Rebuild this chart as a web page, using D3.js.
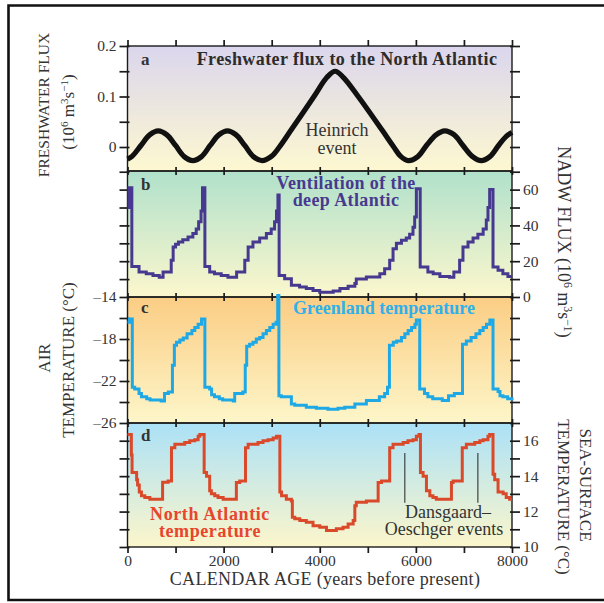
<!DOCTYPE html>
<html>
<head>
<meta charset="utf-8">
<script src="https://cdn.jsdelivr.net/npm/d3@7"></script>
<style>
  html, body { margin: 0; padding: 0; background: #fff; }
  svg { display: block; font-family: "Liberation Serif", "DejaVu Serif", serif; }
</style>
</head>
<body>
<svg id="chart" width="604" height="603"></svg>
<script>
// ---- Data -------------------------------------------------------------
const ageTicks = [0, 1000, 2000, 3000, 4000, 5000, 6000, 7000, 8000];
const ageLabels = [0, 2000, 4000, 6000, 8000];

// a: freshwater flux to the North Atlantic (10^6 m^3 s^-1)
const fluxYears  = [0, 100, 280, 460, 640, 820, 1000, 1180, 1360, 1540, 1720, 1900, 2080, 2260, 2440, 2620, 2800, 3000, 3160, 3400, 3880, 4150, 4320, 4490, 4800, 5300, 5540, 5680, 5840, 6040, 6220, 6420, 6600, 6800, 6980, 7180, 7360, 7540, 7720, 7880, 8000];
const fluxValues = [-0.024, -0.018, 0.003, 0.024, 0.032, 0.024, 0.003, -0.019, -0.027, -0.019, 0.003, 0.024, 0.032, 0.024, 0.003, -0.019, -0.027, -0.018, 0.0, 0.033, 0.1, 0.138, 0.15, 0.138, 0.1, 0.033, 0.0, -0.018, -0.027, -0.019, 0.003, 0.024, 0.032, 0.024, 0.003, -0.019, -0.027, -0.019, 0.003, 0.021, 0.029];

// b: NADW flux (10^6 m^3 s^-1)
const nadwYears  = [0, 30, 90, 240, 390, 530, 660, 740, 910, 950, 1000, 1060, 1150, 1260, 1360, 1430, 1480, 1530, 1560, 1610,
                    1710, 1810, 1950, 2090, 2270, 2440, 2510, 2610, 2750, 2890, 2990, 3060, 3100, 3130, 3155,
                    3270, 3410, 3580, 3720, 3860, 4000, 4280, 4420, 4590, 4730, 4760, 4970, 5250, 5350, 5455, 5525, 5595, 5700, 5800, 5870, 5940, 5975, 6010, 6090,
                    6250, 6360, 6500, 6700, 6790, 6910, 6980, 7085, 7190, 7290, 7400, 7465, 7500, 7535, 7605, 7710, 7810, 7915, 8000];
const nadwValues = [50, 61, 17, 14, 13, 12, 11, 14, 20.5, 28, 29.5, 30.7, 32, 33.5, 35.5, 38, 42, 48, 61, 17,
                    14, 13, 12, 11, 14, 20.5, 28, 30.7, 33, 35.5, 38, 42, 48, 57, 12,
                    10.2, 6.5, 5.6, 4.7, 3.7, 2.6, 3.3, 4.7, 6, 7.5, 10, 11.2, 13, 15.8, 20.5, 27, 30, 31.7, 33, 35, 39, 44.7, 60.5, 16.8,
                    14, 13, 11.5, 11, 14, 20.5, 28, 30.7, 33, 35, 38, 43, 50, 60, 16.8, 15, 13, 11.5, 11.5];

// c: Greenland air temperature (°C)
const greenYears  = [0, 40, 100, 150, 240, 290, 400, 470, 700, 770, 850, 935, 975, 1020, 1090, 1160, 1240, 1340, 1400, 1470, 1540, 1610,
                     1710, 1750, 1810, 1910, 1980, 2200, 2230, 2400, 2450, 2480, 2540, 2610, 2680, 2750, 2820, 2890, 2960, 3030, 3090, 3125, 3150,
                     3200, 3410, 3480, 3720, 3930, 4170, 4380, 4520, 4730, 4970, 5240, 5350, 5410, 5450, 5530, 5600, 5700, 5770, 5840, 5910, 5980, 6010, 6080,
                     6180, 6250, 6350, 6550, 6680, 6800, 6970, 7050, 7150, 7250, 7330, 7400, 7470, 7540, 7605, 7710, 7750, 7810, 7910, 8000];
const greenValues = [-16.4, -16.1, -22.6, -22.75, -23.2, -23.5, -23.7, -23.8, -23.9, -23.2, -23.05, -20.5, -18.6, -18.3, -18.1, -17.9, -17.5, -17.2, -16.9, -16.6, -16.1, -22.6,
                     -22.75, -23.3, -23.5, -23.7, -23.8, -23.9, -23.2, -23.05, -20.5, -18.7, -18.5, -18.3, -18.0, -17.85, -17.5, -17.2, -16.9, -16.6, -16.4, -13.85, -23.4,
                     -23.5, -24.2, -24.3, -24.5, -24.6, -24.7, -24.6, -24.5, -24.2, -23.85, -23.5, -23.2, -22.6, -18.6, -18.3, -18.2, -17.85, -17.5, -17.2, -16.9, -16.6, -16.2, -22.75,
                     -23.2, -23.5, -23.7, -23.85, -23.4, -23.2, -18.5, -18.2, -17.85, -17.5, -17.2, -16.9, -16.6, -16.2, -22.75, -23.0, -23.4, -23.5, -23.7, -23.85];

// d: North Atlantic sea-surface temperature (°C)
const sstYears  = [0, 80, 95, 190, 210, 245, 290, 360, 465, 730, 845, 915, 985, 1190, 1295, 1400, 1470, 1505, 1595,
                   1645, 1710, 1745, 1815, 1885, 1990, 2265, 2335, 2455, 2510, 2715, 2820, 2925, 3030, 3100, 3170,
                   3205, 3305, 3410, 3430, 3480, 3585, 3720, 3860, 4000, 4140, 4345, 4485, 4590, 4695, 4730, 4760, 4970, 5215, 5285, 5455, 5525, 5735, 5835, 5940, 6010, 6065, 6095,
                   6150, 6220, 6290, 6355, 6425, 6740, 6775, 6965, 7050, 7225, 7330, 7400, 7500, 7535, 7605, 7640, 7710, 7815, 7880, 7950, 8000];
const sstValues = [16.35, 15.2, 14.2, 13.8, 13.5, 13.1, 12.9, 12.8, 12.7, 13.65, 13.73, 15.6, 15.8, 15.9, 16.0, 16.06, 16.25, 16.35, 14.2,
                   14.0, 13.17, 13.0, 12.9, 12.8, 12.7, 13.64, 13.73, 15.6, 15.8, 15.9, 16.0, 16.06, 16.16, 16.25, 13.1,
                   12.9, 12.7, 12.6, 11.68, 11.6, 11.5, 11.4, 11.2, 11.12, 10.93, 11.03, 11.12, 11.3, 11.5, 12.33, 12.52, 12.6, 13.64, 13.73, 15.6, 15.8, 15.9, 16.0, 16.06, 16.25, 16.35, 14.2,
                   14.0, 13.17, 12.9, 12.8, 12.7, 13.64, 13.73, 15.6, 15.8, 15.9, 16.0, 16.06, 16.25, 16.35, 14.1, 13.8, 13.1, 13.0, 12.8, 12.7, 12.7];

// Dansgaard–Oeschger event markers
const doYears = [5770, 7290];
const doRange = [12.5, 15.3];

// ---- Layout -----------------------------------------------------------
const svg = d3.select('#chart');
const X0 = 127.5, X1 = 512;
const x = d3.scaleLinear().domain([0, 8000]).range([X0, X1]);

const yA = d3.scaleLinear().domain([-0.0475, 0.2]).range([171, 46]);
const yB = d3.scaleLinear().domain([0, 70.4]).range([297, 171]);
const yC = d3.scaleLinear().domain([-26, -14]).range([423, 297]);
const yD = d3.scaleLinear().domain([10, 17]).range([547, 423]);

const panels = [
  { key: 'a', y: yA, top: '#dbd6ed', bottom: '#fdf8d0' },
  { key: 'b', y: yB, top: '#b0e1cb', bottom: '#fcf7cd' },
  { key: 'c', y: yC, top: '#fbcd84', bottom: '#fdf6c9' },
  { key: 'd', y: yD, top: '#abe1f7', bottom: '#fcf6cb' }
];

// outer frame
svg.append('path')
  .attr('d', 'M 620 5.5 H 8.5 V 600 H 620')
  .attr('fill', 'none').attr('stroke', '#111').attr('stroke-width', 2.6);

const defs = svg.append('defs');
panels.forEach(p => {
  const g = defs.append('linearGradient').attr('id', 'bg-' + p.key)
    .attr('x1', 0).attr('y1', 0).attr('x2', 0).attr('y2', 1);
  g.append('stop').attr('offset', '0%').attr('stop-color', p.top);
  g.append('stop').attr('offset', '100%').attr('stop-color', p.bottom);
  const [y0, y1] = p.y.range();
  svg.append('rect')
    .attr('x', X0).attr('y', y1).attr('width', X1 - X0).attr('height', y0 - y1)
    .attr('fill', 'url(#bg-' + p.key + ')');
});

// ---- Axes -------------------------------------------------------------
function styleAxis(g) {
  g.select('.domain').remove();
  g.attr('font-family', null).attr('font-size', null);
  g.selectAll('line').attr('stroke', '#1a1a1a').attr('stroke-width', 1.7);
  g.selectAll('text').attr('fill', '#333').style('font-size', '15.5px');
  return g;
}
const dash = v => (v < 0 ? '\u2013' + Math.abs(v) : String(v));

// left axes
svg.append('g').attr('transform', `translate(${X0},0)`)
  .call(d3.axisLeft(yA).tickValues([0, 0.05, 0.1, 0.15, 0.2]).tickSize(8).tickPadding(3)
    .tickFormat(v => ([0, 0.1, 0.2].some(t => Math.abs(t - v) < 1e-9) ? (v === 0 ? '0' : v.toFixed(1)) : '')))
  .call(styleAxis).selectAll('line').attr('x1', 2);
svg.append('g').attr('transform', `translate(${X0},0)`)
  .call(d3.axisLeft(yB).tickValues(d3.range(10, 71, 10)).tickSize(8).tickFormat(''))
  .call(styleAxis).selectAll('line').attr('x1', 2);
svg.append('g').attr('transform', `translate(${X0},0)`)
  .call(d3.axisLeft(yC).tickValues(d3.range(-26, -13, 2)).tickSize(8).tickPadding(3)
    .tickFormat(v => ([-14, -18, -22, -26].includes(v) ? dash(v) : '')))
  .call(styleAxis).selectAll('line').attr('x1', 2);
svg.append('g').attr('transform', `translate(${X0},0)`)
  .call(d3.axisLeft(yD).tickValues(d3.range(10, 17, 1)).tickSize(8).tickFormat(''))
  .call(styleAxis).selectAll('line').attr('x1', 2);

// right axes
svg.append('g').attr('transform', `translate(${X1},0)`)
  .call(d3.axisRight(yA).tickValues([0, 0.05, 0.1, 0.15, 0.2]).tickSize(8).tickFormat(''))
  .call(styleAxis).selectAll('line').attr('x1', -2);
svg.append('g').attr('transform', `translate(${X1},0)`)
  .call(d3.axisRight(yB).tickValues(d3.range(10, 71, 10)).tickSize(8).tickPadding(3)
    .tickFormat(v => (v % 20 === 0 ? String(v) : '')))
  .call(styleAxis).selectAll('line').attr('x1', -2);
svg.append('g').attr('transform', `translate(${X1},0)`)
  .call(d3.axisRight(yC).tickValues(d3.range(-26, -13, 2)).tickSize(8).tickPadding(3)
    .tickFormat(v => (v === -14 ? '0' : '')))
  .call(styleAxis).selectAll('line').attr('x1', -2);
svg.append('g').attr('transform', `translate(${X1},0)`)
  .call(d3.axisRight(yD).tickValues(d3.range(10, 17, 1)).tickSize(8).tickPadding(3)
    .tickFormat(v => (v % 2 === 0 ? String(v) : '')))
  .call(styleAxis).selectAll('line').attr('x1', -2);

// horizontal age ticks on every panel boundary
const edges = [46, 171, 297, 423];
edges.forEach((yy, i) => {
  svg.append('g').attr('transform', `translate(0,${yy})`)
    .call(d3.axisTop(x).tickValues(ageTicks).tickSize(i === 0 ? 6 : 4).tickFormat(''))
    .call(styleAxis);
  if (i > 0) {
    svg.append('g').attr('transform', `translate(0,${yy})`)
      .call(d3.axisBottom(x).tickValues(ageTicks).tickSize(4).tickFormat(''))
      .call(styleAxis);
  }
});
svg.append('g').attr('transform', 'translate(0,547)')
  .call(d3.axisBottom(x).tickValues(ageTicks).tickSize(6).tickPadding(2)
    .tickFormat(v => (ageLabels.includes(v) ? String(v) : '')))
  .call(styleAxis);

// panel outlines
panels.forEach(p => {
  const [y0, y1] = p.y.range();
  svg.append('rect')
    .attr('x', X0).attr('y', y1).attr('width', X1 - X0).attr('height', y0 - y1)
    .attr('fill', 'none').attr('stroke', '#1a1a1a').attr('stroke-width', 1.4);
});

// ---- Series -----------------------------------------------------------
const stepLine = y => d3.line().x(d => x(d[0])).y(d => y(d[1])).curve(d3.curveStepAfter);

svg.append('path')
  .datum(d3.zip(fluxYears, fluxValues))
  .attr('d', d3.line().x(d => x(d[0])).y(d => yA(d[1])).curve(d3.curveCatmullRom.alpha(0.5)))
  .attr('fill', 'none').attr('stroke', '#111').attr('stroke-width', 5.2).attr('stroke-linecap', 'butt');

svg.append('path')
  .datum(d3.zip(nadwYears, nadwValues))
  .attr('d', stepLine(yB))
  .attr('fill', 'none').attr('stroke', '#47398f').attr('stroke-width', 3);

svg.append('path')
  .datum(d3.zip(greenYears, greenValues))
  .attr('d', stepLine(yC))
  .attr('fill', 'none').attr('stroke', '#1ea9e6').attr('stroke-width', 3);

svg.append('path')
  .datum(d3.zip(sstYears, sstValues))
  .attr('d', stepLine(yD))
  .attr('fill', 'none').attr('stroke', '#d9492a').attr('stroke-width', 3);

svg.selectAll('line.do')
  .data(doYears).enter().append('line').attr('class', 'do')
  .attr('x1', d => x(d)).attr('x2', d => x(d))
  .attr('y1', yD(doRange[1])).attr('y2', yD(doRange[0]))
  .attr('stroke', '#333').attr('stroke-width', 1.1);

// ---- Text -------------------------------------------------------------
function label(t, px, py, opts = {}) {
  return svg.append('text')
    .attr('x', px).attr('y', py)
    .attr('text-anchor', opts.anchor || 'middle')
    .attr('fill', opts.fill || '#333')
    .attr('font-weight', opts.bold ? 'bold' : null)
    .attr('letter-spacing', opts.ls || null)
    .style('font-size', (opts.size || 16) + 'px')
    .text(t);
}
['a', 'b', 'c', 'd'].forEach((k, i) => label(k, 141, [65, 190, 313, 441][i], { bold: true, size: 17, anchor: 'start' }));

label('Freshwater flux to the North Atlantic', 347, 65, { bold: true, size: 18, ls: 0.4, fill: '#2c2c2c' });
label('Heinrich', 337, 136, { size: 18 });
label('event', 337, 154, { size: 18 });
label('Ventilation of the', 346, 189, { bold: true, size: 18, ls: 0.4, fill: '#47398f' });
label('deep Atlantic', 346, 206, { bold: true, size: 18, ls: 0.4, fill: '#47398f' });
label('Greenland temperature', 384, 314, { bold: true, size: 18, fill: '#2fb0ea' });
label('North Atlantic', 210, 520, { bold: true, size: 18, ls: 0.6, fill: '#e8452d' });
label('temperature', 210, 537, { bold: true, size: 18, ls: 0.6, fill: '#e8452d' });
label('Dansgaard\u2013', 448, 518, { size: 18 });
label('Oeschger events', 444, 535, { size: 18 });

label('CALENDAR AGE (years before present)', 325, 585, { size: 18, ls: 0.3 });

// rotated axis titles; parts given as [text, superscript?]
function vtitle(parts, cx, cy, angle, size) {
  const t = svg.append('text')
    .attr('transform', `translate(${cx},${cy}) rotate(${angle})`)
    .attr('text-anchor', 'middle').attr('dy', '0.35em')
    .attr('fill', '#333').style('font-size', size + 'px');
  parts.forEach(([s, sup]) => {
    const ts = t.append('tspan').text(s);
    if (sup) ts.attr('baseline-shift', 'super').style('font-size', (size * 0.65) + 'px');
  });
}
const unitParts = [['(10'], ['6', true], [' m'], ['3', true], ['s'], ['\u22121', true], [')']];
vtitle([['FRESHWATER FLUX']], 44, 105, -90, 15.5);
vtitle(unitParts, 68, 112, -90, 17);
vtitle([['AIR']], 44, 358, -90, 17);
vtitle([['TEMPERATURE (\u00B0C)']], 68, 360, -90, 17);
vtitle([['NADW FLUX ']].concat(unitParts), 564, 242, 90, 18);
vtitle([['SEA-SURFACE']], 586, 485, 90, 17);
vtitle([['TEMPERATURE (\u00B0C)']], 564, 497, 90, 17);
</script>
</body>
</html>
